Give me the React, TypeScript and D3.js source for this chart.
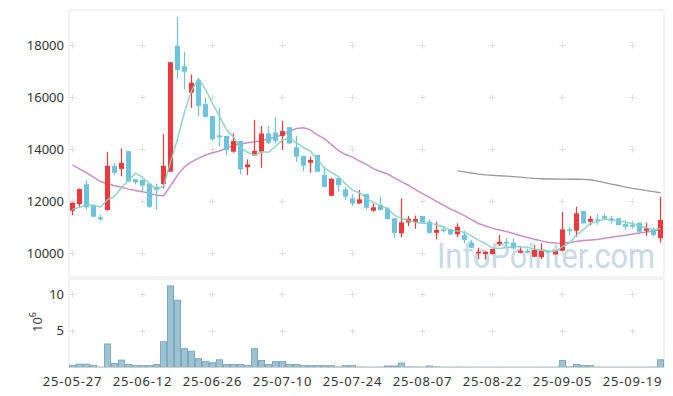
import React, { useEffect, useRef } from "react";
import * as d3 from "d3";

// trading days (yy-mm-dd)
const dates = [
  "25-05-27", "25-05-28", "25-05-29", "25-05-30", "25-06-02", "25-06-04", "25-06-05", "25-06-09", "25-06-10", "25-06-11",
  "25-06-12", "25-06-13", "25-06-16", "25-06-17", "25-06-18", "25-06-19", "25-06-20", "25-06-23", "25-06-24", "25-06-25",
  "25-06-26", "25-06-27", "25-06-30", "25-07-01", "25-07-02", "25-07-03", "25-07-04", "25-07-07", "25-07-08", "25-07-09",
  "25-07-10", "25-07-11", "25-07-14", "25-07-15", "25-07-16", "25-07-17", "25-07-18", "25-07-21", "25-07-22", "25-07-23",
  "25-07-24", "25-07-25", "25-07-28", "25-07-29", "25-07-30", "25-07-31", "25-08-01", "25-08-04", "25-08-05", "25-08-06",
  "25-08-07", "25-08-08", "25-08-11", "25-08-12", "25-08-13", "25-08-14", "25-08-18", "25-08-19", "25-08-20", "25-08-21",
  "25-08-22", "25-08-25", "25-08-26", "25-08-27", "25-08-28", "25-08-29", "25-09-01", "25-09-02", "25-09-03", "25-09-04",
  "25-09-05", "25-09-08", "25-09-09", "25-09-10", "25-09-11", "25-09-12", "25-09-15", "25-09-16", "25-09-17", "25-09-18",
  "25-09-19", "25-09-22", "25-09-23", "25-09-24", "25-09-25",
];

const opens = [
  11640, 11900, 12660, 11850, 11385, 11665, 13360, 13250, 13930, 12850,
  12820, 12680, 12560, 12660, 13140, 17980, 17200, 16180, 16660, 15740,
  15280, 14540, 14510, 13910, 14320, 13310, 13760, 13910, 14610, 14640,
  14520, 14850, 14080, 13740, 13485, 13780, 13010, 12215, 12885, 12460,
  12115, 11920, 12280, 11640, 11860, 11730, 11346, 10770, 11190, 11215,
  11435, 11215, 10790, 10920, 10920, 10730, 10700, 10410, 10000, 9975,
  9975, 10360, 10440, 10410, 10025, 10100, 9870, 9850, 10090, 9960,
  10100, 10920, 10870, 11630, 11215, 11310, 11430, 11346, 11346, 11127,
  11090, 11177, 10870, 10896, 10580,
];
const highs = [
  11950, 12500, 12820, 11870, 11470, 13900, 13460, 14040, 13930, 12850,
  12850, 12700, 12690, 14580, 17350, 19100, 17750, 16880, 16700, 16000,
  15290, 15600, 14520, 14620, 14330, 13615, 15130, 14900, 14900, 15230,
  15100, 14860, 14510, 13760, 13715, 13790, 13330, 12900, 12900, 12560,
  12270, 12430, 12290, 11920, 12177, 11780, 11350, 12115, 11435, 11450,
  11440, 11300, 11215, 11050, 10950, 11155, 10870, 10510, 10215, 10070,
  10170, 10700, 10570, 10570, 10254, 10180, 10320, 10385, 10100, 10110,
  11600, 11020, 11790, 11630, 11440, 11500, 11540, 11440, 11350, 11270,
  11230, 11180, 11180, 11000, 12180,
];
const lows = [
  11470, 11790, 11690, 11400, 11250, 11640, 13010, 12970, 12760, 12650,
  12400, 11750, 11690, 12500, 13140, 16730, 16310, 15600, 15280, 15230,
  14330, 14100, 13780, 13870, 13050, 13010, 13740, 13290, 14200, 14230,
  14000, 14200, 13520, 13165, 13100, 13130, 12530, 12210, 12370, 12050,
  11820, 11900, 11700, 11600, 11660, 11300, 10580, 10615, 11050, 10950,
  11170, 10750, 10540, 10800, 10700, 10640, 10385, 10200, 9770, 9770,
  9960, 10280, 10280, 10150, 10000, 10000, 9850, 9790, 10030, 9950,
  10090, 10700, 10640, 11150, 11080, 11100, 11300, 11150, 11080, 10900,
  10950, 10820, 10665, 10650, 10410,
];
const closes = [
  11950, 12470, 11770, 11410, 11310, 13360, 13100, 13480, 12760, 12730,
  12600, 11790, 12440, 13360, 17350, 17050, 16990, 16560, 15670, 15250,
  14390, 14470, 13970, 14320, 13230, 13420, 13940, 14610, 14250, 14330,
  14700, 14230, 13720, 13370, 13590, 13140, 12560, 12860, 12630, 12180,
  11920, 12077, 11755, 11770, 11665, 11320, 10790, 11190, 11330, 11320,
  11180, 10790, 10900, 10870, 10730, 11020, 10510, 10215, 10060, 10060,
  10165, 10446, 10385, 10190, 10100, 10030, 10130, 10100, 10040, 10100,
  10920, 10870, 11540, 11150, 11320, 11255, 11345, 11280, 11090, 11023,
  11023, 10830, 10960, 10704, 11280,
];

// volume, millions of shares
const volumes = [
  0.3, 0.45, 0.45, 0.3, 0.05, 3.2, 0.55, 1.0, 0.4, 0.25,
  0.25, 0.25, 0.4, 3.5, 11.1, 9.15, 2.55, 2.2, 1.2, 0.8,
  0.65, 1.05, 0.4, 0.4, 0.4, 0.25, 2.55, 0.95, 0.4, 0.8,
  0.8, 0.4, 0.4, 0.25, 0.25, 0.25, 0.25, 0.25, 0.08, 0.25,
  0.25, 0.06, 0.05, 0.05, 0.06, 0.2, 0.2, 0.6, 0.08, 0.07,
  0.06, 0.2, 0.08, 0.05, 0.05, 0.06, 0.05, 0.05, 0.04, 0.04,
  0.04, 0.05, 0.04, 0.04, 0.04, 0.04, 0.04, 0.05, 0.04, 0.05,
  0.95, 0.08, 0.4, 0.25, 0.25, 0.06, 0.05, 0.05, 0.05, 0.05,
  0.05, 0.05, 0.05, 0.06, 1.05,
];

const ma5Head = [11690, 11770, 11850, 11850];
const ma20 = [
  13400, 13250, 13100, 12930, 12760, 12680, 12600, 12540, 12470, 12420,
  12370, 12320, 12230, 12220, 12590, 13010, 13330, 13520, 13650, 13780,
  13870, 13935, 14050, 14150, 14200, 14250, 14280, 14330, 14400, 14480,
  14560, 14700, 14800, 14830, 14750, 14560, 14400, 14180, 13950, 13800,
  13700, 13550, 13420, 13250, 13150, 13050, 12900, 12750, 12620, 12450,
  12300, 12150, 12000, 11850, 11700, 11580, 11450, 11300, 11150, 11050,
  10960, 10900, 10840, 10760, 10680, 10610, 10540, 10480, 10420, 10400,
  10390, 10420, 10460, 10490, 10510, 10530, 10580, 10620, 10660, 10700,
  10740, 10780, 10820, 10860, 10910,
];
const ma60Start = 55;
const ma60 = [
  13170, 13130, 13090, 13050, 13020, 13000, 12985, 12970, 12950, 12930,
  12900, 12880, 12870, 12860, 12860, 12855, 12850, 12850, 12845, 12830,
  12780, 12720, 12660, 12610, 12550, 12500, 12460, 12410, 12370, 12330,
];

const priceTicks = [10000, 12000, 14000, 16000, 18000];
const volTicks = [5, 10];
const dateTickEvery = 10;

const W = 673;
const H = 396;
const UP = "#f0383c";
const DOWN = "#6cc3da";

type Candle = { i: number; o: number; h: number; l: number; c: number; v: number };

const App = () => {
  const ref = useRef<SVGSVGElement>(null);

  useEffect(() => {
    const svg = d3.select(ref.current);
    svg.selectAll("*").remove();

    const data: Candle[] = dates.map((_, i) => ({
      i,
      o: opens[i],
      h: highs[i],
      l: lows[i],
      c: closes[i],
      v: volumes[i],
    }));

    const ma5 = closes.map((_, i) =>
      i < 4 ? ma5Head[i] : (d3.mean(closes.slice(i - 4, i + 1)) as number)
    );

    const left = 69;
    const right = 664;
    const pTop = 10;
    const pBottom = 277;
    const vTop = 279;
    const vBottom = 367.5;

    const x = d3
      .scaleBand<number>()
      .domain(d3.range(dates.length))
      .range([left, right])
      .padding(0);
    const cx = (i: number) => (x(i) as number) + x.bandwidth() / 2;
    const y = d3.scaleLinear().domain([9090, 19360]).range([pBottom, pTop]);
    const yv = d3.scaleLinear().domain([0, 12]).range([vBottom, vTop + 0.3]);

    const font = "'Noto Sans', 'Noto Sans CJK KR', sans-serif";

    // panels
    svg
      .append("rect")
      .attr("x", left)
      .attr("y", pTop)
      .attr("width", right - left)
      .attr("height", pBottom - pTop)
      .attr("fill", "#fff")
      .attr("stroke", "#e6e6e6");
    svg
      .append("rect")
      .attr("x", left)
      .attr("y", vTop)
      .attr("width", right - left)
      .attr("height", vBottom - vTop)
      .attr("fill", "#fff")
      .attr("stroke", "#e6e6e6");

    // grid crosses
    const tickIdx = d3.range(0, dates.length, dateTickEvery);
    const crosses = svg.append("g").attr("stroke", "#dedede").attr("stroke-width", 1);
    const cross = (px: number, py: number) => {
      crosses.append("line").attr("x1", px - 3).attr("x2", px + 3).attr("y1", py).attr("y2", py);
      crosses.append("line").attr("x1", px).attr("x2", px).attr("y1", py - 3).attr("y2", py + 3);
    };
    tickIdx.forEach((i) => {
      priceTicks.forEach((t) => cross(cx(i), Math.round(y(t)) + 0.5));
      volTicks.forEach((t) => cross(cx(i), Math.round(yv(t)) + 0.5));
    });

    // watermark
    svg
      .append("text")
      .attr("x", 655)
      .attr("y", 268)
      .attr("text-anchor", "end")
      .attr("font-family", "Roboto, 'Noto Sans', sans-serif")
      .attr("font-size", 35)
      .attr("textLength", 218)
      .attr("lengthAdjust", "spacingAndGlyphs")
      .attr("fill", "#c3d6e3")
      .attr("opacity", 0.9)
      .text("InfoPointer.com");

    // moving averages
    const line = d3
      .line<number>()
      .x((_, k) => cx(k))
      .y((d) => y(d));
    svg
      .append("path")
      .datum(ma20)
      .attr("fill", "none")
      .attr("stroke", "#c98fc6")
      .attr("stroke-width", 1.5)
      .attr("d", line);
    svg
      .append("path")
      .datum(ma60)
      .attr("fill", "none")
      .attr("stroke", "#9a9a9a")
      .attr("stroke-width", 1.3)
      .attr(
        "d",
        d3
          .line<number>()
          .x((_, k) => cx(k + ma60Start))
          .y((d) => y(d))
      );

    // candles
    const candles = svg
      .append("g")
      .selectAll("g")
      .data(data)
      .enter()
      .append("g");
    candles
      .append("line")
      .attr("x1", (d) => cx(d.i))
      .attr("x2", (d) => cx(d.i))
      .attr("y1", (d) => y(d.h))
      .attr("y2", (d) => y(d.l))
      .attr("stroke", (d) => (d.c >= d.o ? UP : DOWN))
      .attr("stroke-width", 1.2);
    candles
      .append("rect")
      .attr("x", (d) => cx(d.i) - 2.5)
      .attr("width", 5)
      .attr("y", (d) => y(Math.max(d.o, d.c)))
      .attr("height", (d) => Math.max(1.5, Math.abs(y(d.o) - y(d.c))))
      .attr("fill", (d) => (d.c >= d.o ? UP : DOWN));

    svg
      .append("path")
      .datum(ma5)
      .attr("fill", "none")
      .attr("stroke", "#86cfc0")
      .attr("stroke-width", 1.5)
      .attr("opacity", 0.9)
      .attr("d", line);

    // volume bars
    svg
      .append("g")
      .selectAll("rect")
      .data(data)
      .enter()
      .append("rect")
      .attr("x", (d) => (x(d.i) as number) + 0.5)
      .attr("width", x.bandwidth() - 1)
      .attr("y", (d) => yv(d.v))
      .attr("height", (d) => vBottom - yv(d.v))
      .attr("fill", "#9cc3d3")
      .attr("stroke", "#80a9bc")
      .attr("stroke-width", 1);

    // axes lines
    svg
      .append("line")
      .attr("x1", left)
      .attr("x2", right)
      .attr("y1", vBottom)
      .attr("y2", vBottom)
      .attr("stroke", "#cfcfcf");

    // price labels
    svg
      .append("g")
      .selectAll("text")
      .data(priceTicks)
      .enter()
      .append("text")
      .attr("x", 64)
      .attr("y", (d) => y(d))
      .attr("dy", "0.35em")
      .attr("text-anchor", "end")
      .attr("font-family", font)
      .attr("font-size", 13)
      .attr("fill", "#333")
      .text((d) => String(d));

    // volume labels
    svg
      .append("g")
      .selectAll("text")
      .data(volTicks)
      .enter()
      .append("text")
      .attr("x", 64)
      .attr("y", (d) => yv(d))
      .attr("dy", "0.35em")
      .attr("text-anchor", "end")
      .attr("font-family", font)
      .attr("font-size", 13)
      .attr("fill", "#333")
      .text((d) => String(d));

    const unit = svg
      .append("text")
      .attr("transform", "translate(42,322) rotate(-90)")
      .attr("text-anchor", "middle")
      .attr("font-family", font)
      .attr("font-size", 13)
      .attr("fill", "#333");
    unit.append("tspan").text("10");
    unit.append("tspan").attr("dy", -6).attr("font-size", 9).text("6");

    // date labels
    svg
      .append("g")
      .selectAll("text")
      .data(tickIdx)
      .enter()
      .append("text")
      .attr("x", (i) => cx(i))
      .attr("y", 381)
      .attr("dy", "0.35em")
      .attr("text-anchor", "middle")
      .attr("font-family", font)
      .attr("font-size", 13)
      .attr("letter-spacing", 0.8)
      .attr("fill", "#333")
      .text((i) => dates[i]);
  }, []);

  return (
    <svg
      ref={ref}
      width={W}
      height={H}
      style={{ position: "absolute", left: 0, top: 0, background: "#fff" }}
    />
  );
};

export default App;
